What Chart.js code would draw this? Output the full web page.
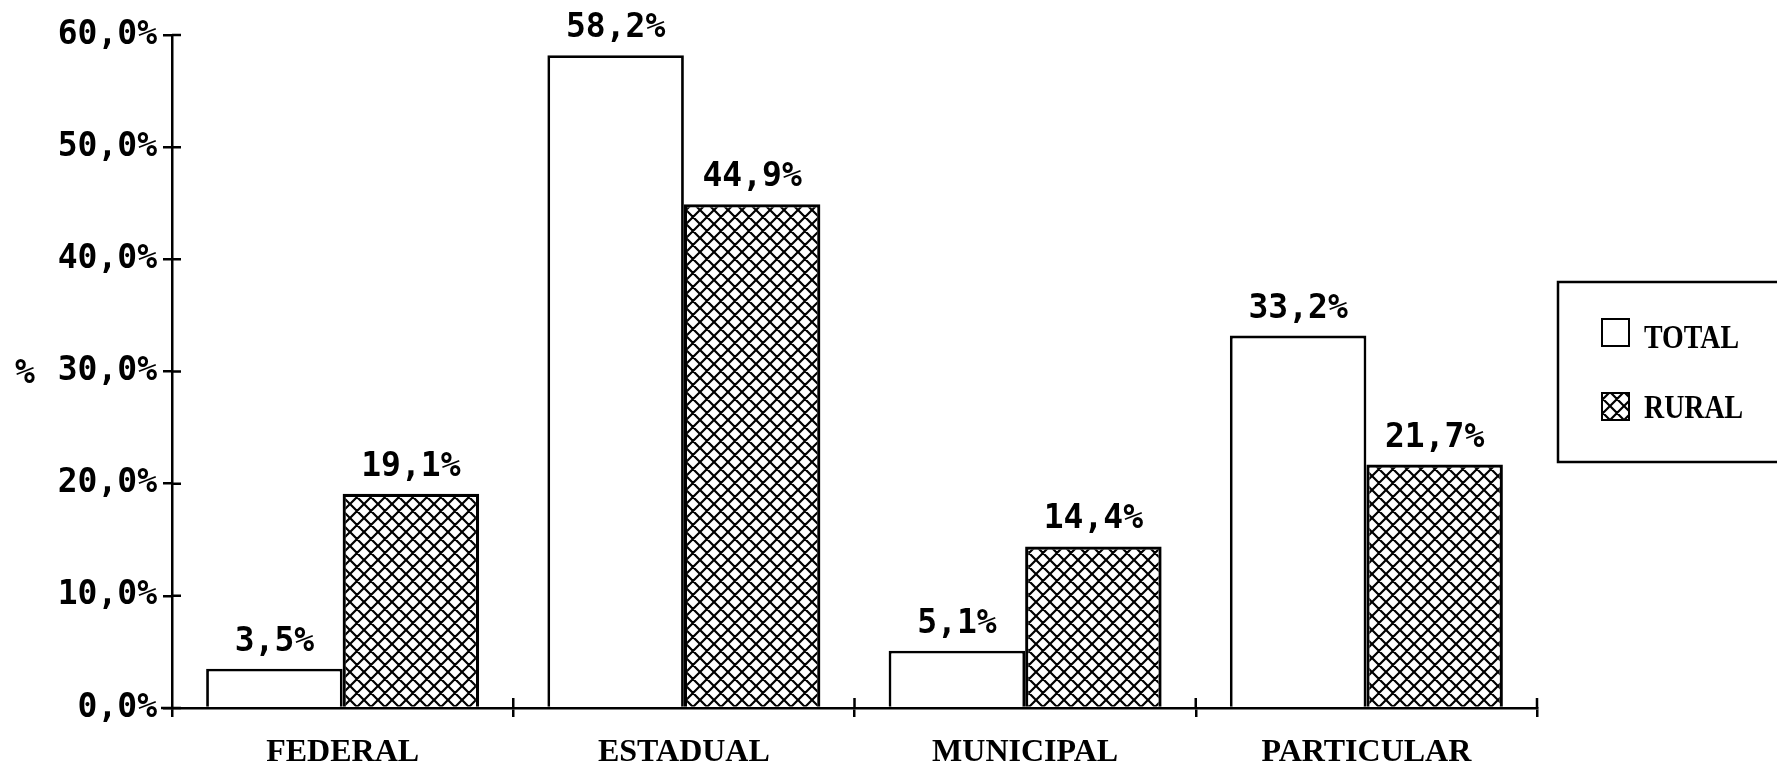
<!DOCTYPE html>
<html><head><meta charset="utf-8">
<script src="https://cdn.jsdelivr.net/npm/chart.js@4.4.1/dist/chart.umd.min.js"></script>
<style>html,body{margin:0;padding:0;background:#fff;overflow:hidden}</style>
</head><body>
<canvas id="c" width="1777" height="766"></canvas>
<script>
const categories = ['FEDERAL', 'ESTADUAL', 'MUNICIPAL', 'PARTICULAR'];
const seriesNames = ['TOTAL', 'RURAL'];
const totalValues = [3.5, 58.2, 5.1, 33.2];
const ruralValues = [19.1, 44.9, 14.4, 21.7];
const yTickValues = [0, 10, 20, 30, 40, 50, 60];
const yAxisTitle = '%';

function fmt(v) { return Number(v).toFixed(1).replace('.', ',') + '%'; }

const canvas = document.getElementById('c');
const ctx = canvas.getContext('2d');

function makeHatch() {
  const s = 14;
  const c = document.createElement('canvas');
  c.width = s; c.height = s;
  const g = c.getContext('2d');
  g.fillStyle = '#fff'; g.fillRect(0, 0, s, s);
  g.strokeStyle = '#000'; g.lineWidth = 2.2;
  g.beginPath();
  for (const o of [-s, 0, s]) {
    g.moveTo(o - 1, -1); g.lineTo(o + s + 1, s + 1);
    g.moveTo(o + s + 1, -1); g.lineTo(o - 1, s + 1);
  }
  g.stroke();
  return ctx.createPattern(c, 'repeat');
}
const hatch = makeHatch();

const monoFont = '"DejaVu Sans Mono", "Liberation Mono", monospace';
const serifFont = '"Liberation Serif", "DejaVu Serif", serif';

const extras = {
  id: 'extras',
  afterDatasetsDraw(chart) {
    const c = chart.ctx;
    c.save();
    c.fillStyle = '#000';
    c.font = 'bold 33px ' + monoFont;
    c.textAlign = 'center';
    c.textBaseline = 'alphabetic';
    chart.data.datasets.forEach((ds, di) => {
      const meta = chart.getDatasetMeta(di);
      meta.data.forEach((el, i) => {
        c.fillText(fmt(ds.data[i]), el.x, el.y - 18);
      });
    });
    c.restore();
  },
  afterDraw(chart) {
    const c = chart.ctx;
    const xs = chart.scales.x, ys = chart.scales.y;
    const ax = chart.chartArea.left, ay = chart.chartArea.bottom;
    c.save();
    c.strokeStyle = '#000';
    c.lineWidth = 2.5;
    c.beginPath();
    yTickValues.forEach(v => {
      const y = ys.getPixelForValue(v);
      c.moveTo(ax, y); c.lineTo(ax + 9, y);
    });
    for (let i = 1; i <= categories.length; i++) {
      const x = (xs.getPixelForValue(i - 1) + xs.getPixelForValue(i)) / 2;
      const xb = i === categories.length ? chart.chartArea.right : x;
      c.moveTo(xb, ay); c.lineTo(xb, ay - 10);
    }
    c.moveTo(ax - 11, ay); c.lineTo(ax, ay);
    c.stroke();

    c.fillStyle = '#000';
    c.font = 'bold 33px ' + monoFont;
    c.textAlign = 'center';
    c.textBaseline = 'middle';
    c.fillText(yAxisTitle, 25, ys.getPixelForValue(30) + 3);

    c.lineWidth = 2.5;
    c.strokeRect(1558, 282, 260, 180);
    const items = chart.data.datasets.map(d => ({ label: d.label, fill: d.backgroundColor }));
    const rows = [{ sy: 319, ty: 338 }, { sy: 393, ty: 408 }];
    items.forEach((it, i) => {
      const r = rows[i];
      c.fillStyle = it.fill;
      c.fillRect(1602, r.sy, 27, 27);
      c.lineWidth = 2;
      c.strokeRect(1602, r.sy, 27, 27);
      c.save();
      c.fillStyle = '#000';
      c.font = 'bold 34px ' + serifFont;
      c.textAlign = 'left';
      c.textBaseline = 'middle';
      c.translate(1644, r.ty + 1);
      c.scale(0.82, 1);
      c.fillText(it.label, 0, 0);
      c.restore();
    });
    c.restore();
  }
};

new Chart(ctx, {
  type: 'bar',
  data: {
    labels: categories,
    datasets: [
      { label: seriesNames[0], data: totalValues, backgroundColor: '#fff', borderColor: '#000', borderWidth: 2.8 },
      { label: seriesNames[1], data: ruralValues, backgroundColor: hatch, borderColor: '#000', borderWidth: 3.2 }
    ]
  },
  options: {
    responsive: false,
    animation: false,
    events: [],
    datasets: { bar: { categoryPercentage: 0.8, barPercentage: 1.0 } },
    layout: { padding: { left: 0, right: 1777 - 1537, top: 35, bottom: 0 } },
    plugins: { legend: { display: false }, tooltip: { enabled: false } },
    scales: {
      x: {
        z: 1,
        grid: { offset: true, drawOnChartArea: false, color: '#000', lineWidth: 2.5, tickLength: 9 },
        border: { display: true, color: '#000', width: 2.5 },
        ticks: { color: '#000', font: { family: serifFont, weight: 'bold', size: 32 }, padding: 17 },
        afterFit(s) { s.height = 58; }
      },
      y: {
        min: 0, max: 60,
        afterBuildTicks(s) { s.ticks = yTickValues.map(v => ({ value: v })); },
        grid: { drawOnChartArea: false, color: '#000', lineWidth: 2.5, tickLength: 9 },
        border: { display: true, color: '#000', width: 2.5 },
        ticks: { color: '#000', font: { family: monoFont, weight: 'bold', size: 33 }, padding: 6, callback: v => fmt(v) },
        afterFit(s) { s.width = 172; }
      }
    }
  },
  plugins: [extras]
});
</script>
</body></html>
